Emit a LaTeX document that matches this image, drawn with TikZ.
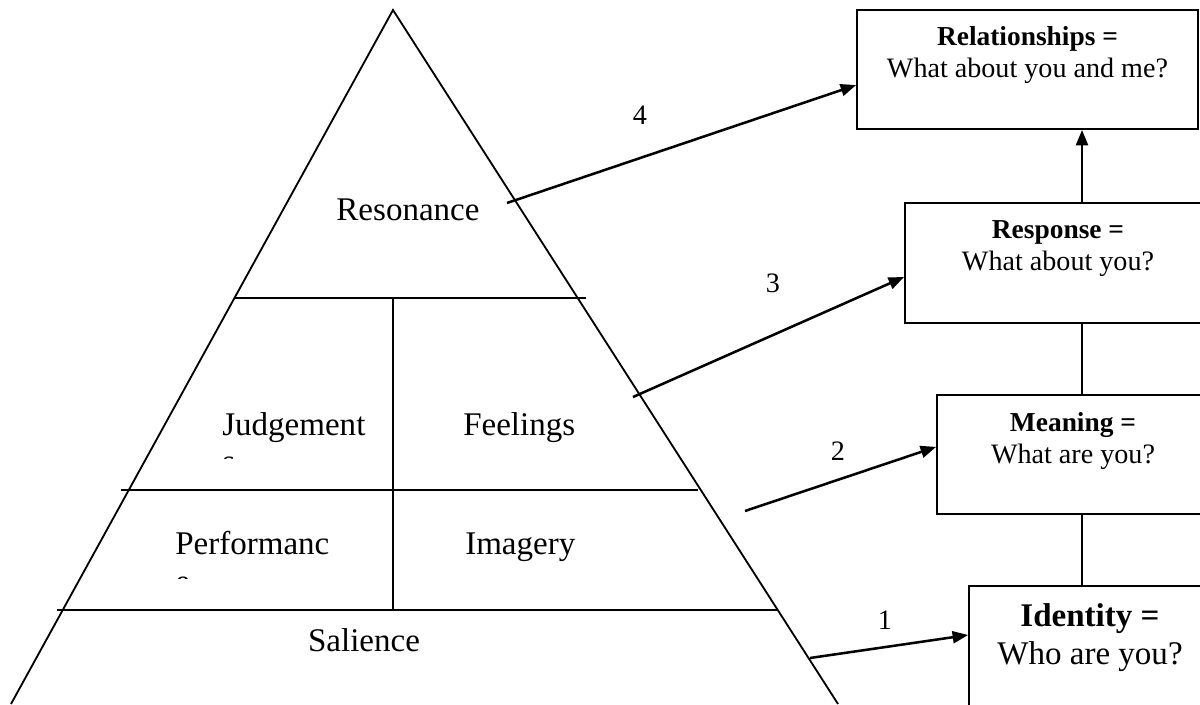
\documentclass[tikz,border=0pt]{standalone}
\usepackage{fontspec}
\setmainfont{Liberation Serif}
\usetikzlibrary{arrows.meta}

\newcommand\bxbold{\fontsize{19.5}{22.76}\selectfont\bfseries}

\tikzset{
    >={Triangle[length=11pt,width=8.5pt]},
    pyr/.style={inner sep=0pt, font=\fontsize{23.5}{28}\selectfont},
    box/.style={draw, line width=1.3pt, inner sep=0pt},
    boxtxt/.style={align=center, inner sep=0pt, anchor=north, font=\fontsize{20}{22.76}\selectfont},
    num/.style={inner sep=0pt, font=\fontsize{20}{22}\selectfont},
}

\begin{document}
\begin{tikzpicture}

    \clip (0,0) rectangle (30,17.6);

    % 绘制金字塔
    \begin{scope}[line width=1.3pt]
        \coordinate (T) at (9.825,17.35);
        \coordinate (L) at (0.275,0);
        \coordinate (R) at (20.95,0);
        \draw (L) -- (T) -- (R);
        \draw (5.85,10.15) -- (14.65,10.15);
        \draw (3.025,5.35) -- (17.45,5.35);
        \draw (1.425,2.35) -- (19.45,2.35);
        \draw (9.825,10.15) -- (9.825,2.35);
    \end{scope}

    % 金字塔文字
    \node[pyr] (reso) at (10.2,12.35) {Resonance};
    \node[pyr, anchor=base west] (judg) at (5.55,6.725) {Judgement};
    \node[pyr, anchor=base west] (feel) at (11.575,6.725) {Feelings};
    \node[pyr, anchor=base west] (perf) at (4.375,3.75) {Performanc};
    \node[pyr, anchor=base west] (imag) at (11.625,3.75) {Imagery};
    \node[pyr, anchor=base] (sali) at (9.1,1.325) {Salience};

    % 被截断的第二行
    \begin{scope}
        \clip (5.4,6.15) rectangle (6.2,6.5);
        \node[pyr, anchor=base west] (judg-s) at (5.55,5.79) {s};
    \end{scope}
    \begin{scope}
        \clip (4.2,3.15) rectangle (5.0,3.5);
        \node[pyr, anchor=base west] (perf-e) at (4.375,2.80) {e};
    \end{scope}

    % 右侧方框
    \node[box, minimum width=8.525cm, minimum height=2.975cm] (rel) at (25.6875,15.8625) {};
    \node[box, minimum width=7.65cm, minimum height=3cm] (resp) at (26.45,11.025) {};
    \node[box, minimum width=6.8cm, minimum height=2.975cm] (mean) at (26.825,6.2375) {};
    \node[box, minimum width=6.05cm, minimum height=3.5cm] (iden) at (27.25,1.2) {};

    % 方框文字
    \node[boxtxt] (rel-t) at ([yshift=-0.44cm]rel.north) {{\bxbold Relationships =}\\What about you and me?};
    \node[boxtxt] (resp-t) at ([yshift=-0.455cm]resp.north) {{\bxbold Response =}\\What about you?};
    \node[boxtxt] (mean-t) at ([yshift=-0.455cm]mean.north) {{\bxbold Meaning =}\\What are you?};
    \node[boxtxt, font=\fontsize{23.5}{27}\selectfont] (iden-t) at ([yshift=-0.46cm]iden.north) {\textbf{Identity =}\\Who are you?};

    % 方框之间的连线
    \coordinate (spine) at (27.05,0);
    \draw[->, line width=1.8pt] (resp.north -| spine) -- (rel.south -| spine);
    \draw[line width=1.3pt] (mean.north -| spine) -- (resp.south -| spine);
    \draw[line width=1.3pt] (iden.north -| spine) -- (mean.south -| spine);

    % 编号箭头
    \coordinate (s4) at (12.675,12.525);
    \coordinate (s3) at (15.825,7.675);
    \coordinate (s2) at (18.625,4.825);
    \coordinate (s1) at (20.25,1.15);
    \draw[->, line width=1.8pt] (s4) -- ([yshift=-0.39cm]rel.west);
    \draw[->, line width=1.8pt] (s3) -- ([yshift=-0.35cm]resp.west);
    \draw[->, line width=1.8pt] (s2) -- ([yshift=0.19cm]mean.west);
    \draw[->, line width=1.8pt] (s1) -- ([yshift=0.525cm]iden.west);

    % 编号
    \node[num] (n4) at (16.0,14.725) {4};
    \node[num] (n3) at (19.325,10.525) {3};
    \node[num] (n2) at (20.95,6.325) {2};
    \node[num] (n1) at (22.125,2.1) {1};

\end{tikzpicture}
\end{document}
